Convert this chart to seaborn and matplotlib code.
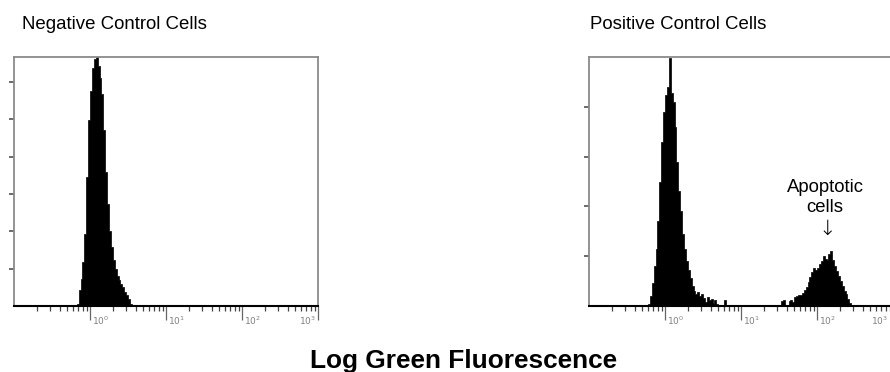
import numpy as np
import pandas as pd
import matplotlib
matplotlib.use('Agg')
import matplotlib.pyplot as plt
import matplotlib.transforms as mtransforms
import seaborn as sns

# Histogram channel counts.
# x is log10(green fluorescence), one bin every 0.025 decade starting at *_start
bin_width = 0.025

neg_start = -0.200
neg_counts = [0, 2, 13, 22, 35, 58, 104, 149, 173, 191, 198, 200, 193, 183, 170, 141,
              108, 82, 60, 47, 37, 30, 24, 21, 18, 15, 11, 9, 6, 2, 1]

pos_main_start = -0.225
pos_main_counts = [2, 10, 23, 40, 57, 85, 125, 165, 195, 212, 220, 249, 214, 205, 180,
                   145, 115, 95, 72, 57, 45, 36, 28, 20, 15, 12, 14, 10, 12, 8, 4, 9,
                   6, 7, 3, 6, 2, 0, 0, 0, 6, 0]

pos_apop_start = 1.525
pos_apop_counts = [5, 6, 0, 0, 5, 6, 4, 9, 10, 11, 11, 13, 16, 19, 24, 29, 34, 38, 36,
                   38, 42, 45, 50, 47, 46, 52, 55, 46, 40, 35, 30, 25, 20, 15, 12, 7, 3, 0]

decades = [0, 1, 2, 3]
decade_labels = ['$10^{0}$', '$10^{1}$', '$10^{2}$', '$10^{3}$']

panel_titles = ['Negative Control Cells', 'Positive Control Cells']
xlabel = 'Log Green Fluorescence'

sns.set_style('white')
plt.rcParams['font.family'] = ['Liberation Sans', 'DejaVu Sans']
plt.rcParams['text.color'] = 'black'

# list, not array: seaborn compares bins with "auto" when weights are given
edges = np.arange(-1.0, 3.0 + bin_width / 2, bin_width).tolist()


def to_frame(groups):
    parts = []
    for start, counts in groups:
        centers = start + bin_width * (np.arange(len(counts)) + 0.5)
        parts.append(pd.DataFrame({'log_fl': centers, 'count': counts}))
    return pd.concat(parts, ignore_index=True)


def draw_panel(fig, ax, groups, ymax, yticks, last_shift=0):
    df = to_frame(groups)
    sns.histplot(data=df, x='log_fl', weights='count', bins=edges,
                 element='step', fill=True, color='black', alpha=1,
                 linewidth=0.5, ax=ax)
    ax.set_xlim(-1, 3)
    ax.set_ylim(0, ymax)
    ax.set_xlabel('')
    ax.set_ylabel('')

    # frame: gray box, black baseline
    for side in ['left', 'top', 'right']:
        ax.spines[side].set_color('#8a8a8a')
        ax.spines[side].set_linewidth(1.3)
    ax.spines['bottom'].set_color('black')
    ax.spines['bottom'].set_linewidth(1.5)

    ax.set_yticks(yticks)
    ax.set_yticklabels([])
    ax.tick_params(axis='y', direction='out', length=3.5, width=1.1, color='#444444', left=True)

    ax.set_xticks(decades)
    ax.set_xticks([d + np.log10(m) for d in range(-1, 3) for m in range(2, 10)], minor=True)
    ax.set_xticklabels(decade_labels, fontsize=6.5, color='#808080',
                       family='DejaVu Sans')
    ax.tick_params(axis='x', which='major', direction='out', length=10, width=0.9,
                   color='#666666', pad=-3.5, bottom=True)
    ax.tick_params(axis='x', which='minor', direction='out', length=3.5, width=0.9,
                   color='#444444', bottom=True)
    # labels sit just right of the long decade tick (last one left of it)
    labels = ax.get_xticklabels()
    for i, lab in enumerate(labels):
        if i == len(labels) - 1:
            lab.set_horizontalalignment('right')
            dx = -2 - last_shift
        else:
            lab.set_horizontalalignment('left')
            dx = 2
        off = mtransforms.ScaledTranslation(dx / 100, 0, fig.dpi_scale_trans)
        lab.set_transform(lab.get_transform() + off)


fig = plt.figure(figsize=(8.9, 3.72), dpi=100)
W, H = 890.0, 372.0
ax_neg = fig.add_axes([14 / W, 66 / H, 304 / W, 249 / H])
ax_pos = fig.add_axes([589 / W, 66 / H, 304 / W, 249 / H])

draw_panel(fig, ax_neg, [(neg_start, neg_counts)], 200, [30, 60, 90, 120, 150, 180])
draw_panel(fig, ax_pos, [(pos_main_start, pos_main_counts), (pos_apop_start, pos_apop_counts)],
           250, [50, 100, 150, 200], last_shift=3)

fig.text(22 / W, 1 - 29 / H, panel_titles[0], fontsize=13.4, va='baseline', ha='left')
fig.text(590 / W, 1 - 29 / H, panel_titles[1], fontsize=13.4, va='baseline', ha='left')

ax_pos.text(2.105, 114, 'Apoptotic', fontsize=13.3, ha='center', va='baseline')
ax_pos.text(2.105, 94, 'cells', fontsize=13.3, ha='center', va='baseline')
ax_pos.text(2.13, 71, '\u2193', fontsize=15, ha='center', va='baseline',
            family='DejaVu Sans', fontweight='light')

fig.text(464 / W, 1 - 368 / H, xlabel, fontsize=18.9, fontweight='bold',
         ha='center', va='baseline')

fig.savefig('out.png', dpi=100)
